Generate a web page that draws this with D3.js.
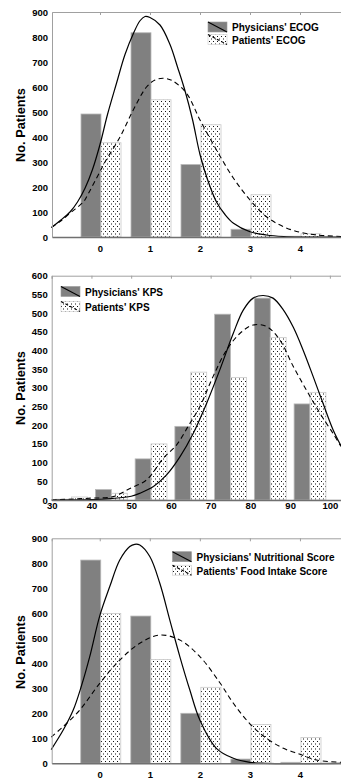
<!DOCTYPE html>
<html><head><meta charset="utf-8">
<script src="https://cdn.jsdelivr.net/npm/d3@7"></script>
<style>
html,body{margin:0;padding:0;background:#fff;}
text{font-family:"Liberation Sans",Arial,sans-serif;font-weight:bold;fill:#000;}
</style></head>
<body><svg id="c" width="341" height="781"></svg>
<script>
// ---------- DATA ----------
const ecogCats = [0, 1, 2, 3, 4];
const ecogPhys = [492, 817, 290, 31, 3];
const ecogPat  = [377, 549, 449, 169, 13];
const ecogPhysCurve = [[-0.97,38],[-0.8,65],[-0.6,100],[-0.45,140],[-0.3,195],[-0.15,270],[0,370],[0.15,490],[0.33,615],[0.5,730],[0.67,815],[0.8,865],[0.9,882],[1.0,878],[1.2,848],[1.4,770],[1.55,680],[1.7,585],[1.85,470],[2.0,330],[2.15,230],[2.33,140],[2.5,90],[2.67,55],[3.0,21],[3.33,8],[3.67,2],[4.0,0],[4.82,0]];
const ecogPatCurve  = [[-0.97,38],[-0.8,62],[-0.57,100],[-0.33,141],[-0.23,175],[0,262],[0.1,300],[0.4,400],[0.67,510],[0.93,600],[1.1,628],[1.27,635],[1.45,625],[1.73,575],[2.0,468],[2.33,348],[2.67,235],[3.0,148],[3.33,81],[3.67,41],[4.0,19],[4.33,8],[4.82,2]];
const ecogLegend = ["Physicians' ECOG", "Patients' ECOG"];

const kpsBins = [30, 40, 50, 60, 70, 80, 90];
const kpsTicks = [30, 40, 50, 60, 70, 80, 90, 100];
const kpsPhys = [2, 28, 110, 197, 497, 540, 257];
const kpsPat  = [8, 18, 150, 342, 328, 435, 288];
const kpsPhysCurve = [[30,0],[40,1],[45,4],[50,10],[52.2,18],[55.6,36],[58.9,67],[62.3,116],[65.6,178],[69,259],[72.3,348],[75.7,446],[78.2,508],[80.7,540],[83.2,547],[85.7,540],[88.2,510],[90.8,462],[93.3,400],[95.8,330],[98.3,258],[100.8,188],[102.8,145]];
const kpsPatCurve  = [[30,0],[40,5],[45.5,9],[49.7,31],[53.9,54],[58.1,112],[61.4,147],[64.5,200],[67.3,250],[70.6,330],[74,401],[77.4,446],[80.7,468],[84.1,464],[87.4,428],[90.8,357],[94.1,294],[97.5,232],[100.8,178],[102.8,143]];
const kpsLegend = ["Physicians' KPS", "Patients' KPS"];

const nutrCats = [0, 1, 2, 3, 4];
const nutrPhys = [813, 589, 200, 17, 4];
const nutrPat  = [599, 415, 304, 155, 103];
const nutrPhysCurve = [[-0.97,55],[-0.73,133],[-0.53,213],[-0.37,307],[-0.2,427],[0,590],[0.2,707],[0.4,813],[0.6,867],[0.7,876],[0.8,873],[1.0,827],[1.2,720],[1.4,573],[1.6,427],[1.8,293],[2.0,173],[2.33,60],[2.67,20],[3.0,4],[3.3,0],[4.82,0]];
const nutrPatCurve  = [[-0.97,105],[-0.73,147],[-0.4,213],[0,320],[0.4,413],[0.8,480],[1.2,513],[1.6,493],[2.0,427],[2.4,322],[2.67,240],[3.0,158],[3.33,100],[3.67,60],[4.0,36],[4.33,13],[4.82,4]];
const nutrLegend = ["Physicians' Nutritional Score", "Patients' Food Intake Score"];

const yTitle = "No. Patients";

// ---------- DRAW ----------
const svg = d3.select("#c");
const defs = svg.append("defs");
const pat = defs.append("pattern").attr("id","dots").attr("patternUnits","userSpaceOnUse")
  .attr("width",4).attr("height",5);
pat.append("rect").attr("width",4).attr("height",5).attr("fill","#fff");
pat.append("rect").attr("x",1).attr("y",1).attr("width",1).attr("height",1).attr("fill","#111");
pat.append("rect").attr("x",3).attr("y",3.5).attr("width",1).attr("height",1).attr("fill","#111");

function panel(cfg){
  const g = svg.append("g");
  const x = d3.scaleLinear().domain(cfg.xDomain).range([cfg.left, 341]);
  const y = d3.scaleLinear().domain([0, cfg.yMax]).range([cfg.bottom, cfg.top]);

  const bw = cfg.barW;
  g.selectAll(".pb").data(cfg.cats).join("rect")
    .attr("x", (d)=>x(d + cfg.physOff))
    .attr("width", (d)=>x(d + cfg.physOff + bw) - x(d + cfg.physOff))
    .attr("y", (d,i)=>y(cfg.phys[i]))
    .attr("height", (d,i)=>y(0)-y(cfg.phys[i]))
    .attr("fill","#808080").attr("stroke","#b8b8b8").attr("stroke-width",0.8);
  g.selectAll(".tb").data(cfg.cats).join("rect")
    .attr("x", (d)=>x(d + cfg.physOff + bw))
    .attr("width", (d)=>x(d + cfg.physOff + 2*bw) - x(d + cfg.physOff + bw))
    .attr("y", (d,i)=>y(cfg.pat[i]))
    .attr("height", (d,i)=>y(0)-y(cfg.pat[i]))
    .attr("fill","url(#dots)").attr("stroke","#c8c8c8").attr("stroke-width",0.8);

  const line = d3.line().x(d=>x(d[0])).y(d=>y(d[1])).curve(d3.curveCatmullRom.alpha(0.5));
  g.append("path").datum(cfg.physCurve).attr("d",line).attr("fill","none")
    .attr("stroke","#000").attr("stroke-width",1.2);
  g.append("path").datum(cfg.patCurve).attr("d",line).attr("fill","none")
    .attr("stroke","#000").attr("stroke-width",1.1).attr("stroke-dasharray","5,3.5");

  const ya = g.append("g").attr("transform",`translate(${cfg.left},0)`)
    .call(d3.axisLeft(y).tickValues(d3.range(0, cfg.yMax + 1, cfg.yStep)).tickSize(0).tickPadding(4));
  ya.select(".domain").attr("stroke","#a0a0a0");
  ya.selectAll("text").attr("font-size","9.5px").attr("font-family","Liberation Sans, Arial, sans-serif").attr("font-weight","bold");

  const xb = g.append("g").attr("transform",`translate(0,${cfg.bottom})`)
    .call(d3.axisBottom(x).tickValues(cfg.xTicks).tickSize(0).tickPadding(cfg.xPad).tickFormat(d3.format("d")));
  xb.select(".domain").attr("stroke","#707070").attr("stroke-width",1.5);
  xb.selectAll("text").attr("font-size","9.5px").attr("font-family","Liberation Sans, Arial, sans-serif").attr("font-weight","bold");

  const xt = g.append("g").attr("transform",`translate(0,${cfg.top})`)
    .call(d3.axisTop(x).tickValues(cfg.xTicks).tickSize(-3).tickFormat(""));
  xt.select(".domain").attr("stroke","#a0a0a0");
  xt.selectAll("line").attr("stroke","#a0a0a0");

  g.append("text").attr("transform",`translate(25,${cfg.titleY}) rotate(-90)`)
    .attr("text-anchor","middle").attr("font-size","12.8px").text(yTitle);

  const L = cfg.legend;
  const lg = g.append("g");
  [0,1].forEach(i=>{
    const ry = L.y + i*L.dy;
    lg.append("rect").attr("x",L.x).attr("y",ry).attr("width",19).attr("height",10)
      .attr("fill", i===0 ? "#808080" : "url(#dots)").attr("stroke", i===0 ? "#999" : "#ccc").attr("stroke-width",0.6);
    lg.append("line").attr("x1",L.x).attr("y1",ry).attr("x2",L.x+19).attr("y2",ry+10)
      .attr("stroke","#000").attr("stroke-width",1.1).attr("stroke-dasharray", i===0 ? null : "3,2");
    lg.append("text").attr("x",L.x+24).attr("y",ry+9.3).attr("font-size","10px").text(cfg.legendText[i]);
  });
}

panel({cats:ecogCats, phys:ecogPhys, pat:ecogPat, physCurve:ecogPhysCurve, patCurve:ecogPatCurve,
  legendText:ecogLegend, xDomain:[-0.96,4.82], xTicks:ecogCats, physOff:-0.38, barW:0.4,
  top:12, bottom:237, left:52, yMax:900, yStep:100, xPad:8, titleY:125,
  legend:{x:208, y:22, dy:12.5}});

panel({cats:kpsBins, phys:kpsPhys, pat:kpsPat, physCurve:kpsPhysCurve, patCurve:kpsPatCurve,
  legendText:kpsLegend, xDomain:[30,102.8], xTicks:kpsTicks, physOff:1, barW:4,
  top:275.7, bottom:500, left:51.7, yMax:600, yStep:50, xPad:2, titleY:388,
  legend:{x:61, y:286.5, dy:15}});

panel({cats:nutrCats, phys:nutrPhys, pat:nutrPat, physCurve:nutrPhysCurve, patCurve:nutrPatCurve,
  legendText:nutrLegend, xDomain:[-0.96,4.82], xTicks:nutrCats, physOff:-0.38, barW:0.4,
  top:538.3, bottom:763.3, left:51.7, yMax:900, yStep:100, xPad:8, titleY:652,
  legend:{x:172.5, y:551.7, dy:13.5}});
</script></body></html>
